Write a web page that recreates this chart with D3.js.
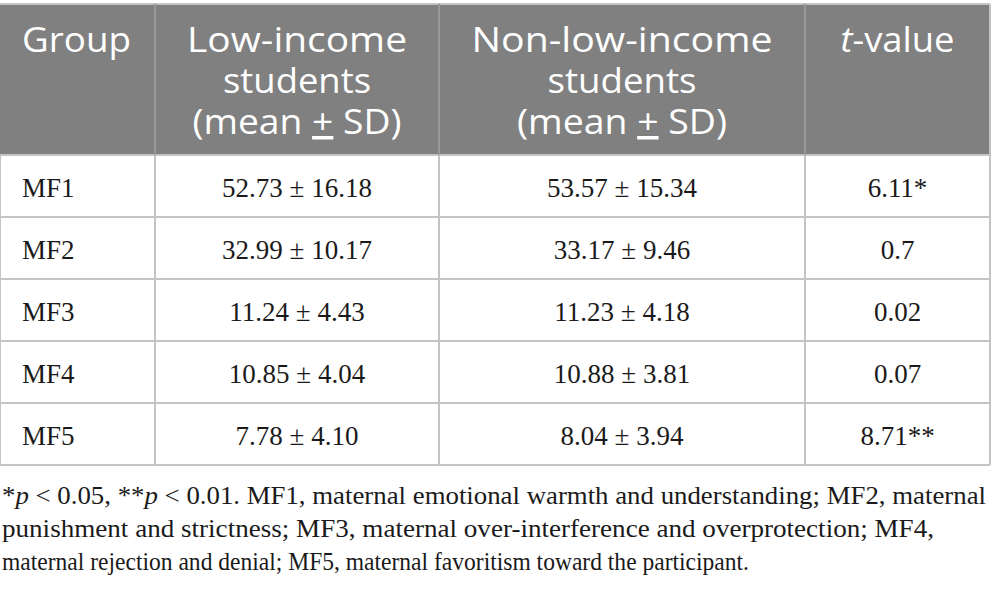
<!DOCTYPE html>
<html>
<head>
<meta charset="utf-8">
<script src="https://cdn.jsdelivr.net/npm/d3@7"></script>
<style>
  body { margin: 0; background: #fff; }
  svg { display: block; }
</style>
</head>
<body>
<div id="table"></div>
<script>
var width = 991,
    height = 592;

// table contents
var groups = ["MF1", "MF2", "MF3", "MF4", "MF5"];
var lowIncome = ["52.73 ± 16.18", "32.99 ± 10.17", "11.24 ± 4.43", "10.85 ± 4.04", "7.78 ± 4.10"];
var nonLowIncome = ["53.57 ± 15.34", "33.17 ± 9.46", "11.23 ± 4.18", "10.88 ± 3.81", "8.04 ± 3.94"];
var tValues = ["6.11*", "0.7", "0.02", "0.07", "8.71**"];
var headers = [
  [["Group"]],
  [["Low-income"], ["students"], ["(mean ", "+", " SD)"]],
  [["Non-low-income"], ["students"], ["(mean ", "+", " SD)"]],
  [["t", "-value"]]
];
var headWidths = [[109], [220, 148, 209], [301, 149, 210], [114]];
var footnote = [
  [["*"], ["p", "i"], [" < 0.05, **"], ["p", "i"], [" < 0.01. MF1, maternal emotional warmth and understanding; MF2, maternal"]],
  [["punishment and strictness; MF3, maternal over-interference and overprotection; MF4,"]],
  [["maternal rejection and denial; MF5, maternal favoritism toward the participant."]]
];
var footWidths = [984, 932, 747];

var colEdges = [0, 155, 439, 805, 990];
var headTop = 4, headBottom = 155, tableBottom = 465;

var svg = d3.select("#table").append("svg")
    .attr("width", width)
    .attr("height", height);

var y = d3.scaleBand()
    .domain(groups)
    .range([headBottom, tableBottom]);

var colMid = function(i) { return (colEdges[i] + colEdges[i + 1]) / 2; };

// header background
svg.append("rect")
    .attr("x", colEdges[0])
    .attr("y", headTop)
    .attr("width", colEdges[4] - colEdges[0])
    .attr("height", headBottom - headTop)
    .attr("fill", "#808080");

// header text, one text per column, a tspan per line
headers.forEach(function(lines, c) {
  var t = svg.append("text")
      .attr("text-anchor", c == 0 ? "start" : "middle")
      .attr("fill", "#fff")
      .attr("font-family", "'Open Sans', sans-serif")
      .attr("font-size", 35);
  lines.forEach(function(parts, l) {
    var line = t.append("tspan")
        .attr("x", c == 0 ? 22 : colMid(c))
        .attr("y", 52 + l * 41)
        .attr("textLength", headWidths[c][l])
        .attr("lengthAdjust", "spacingAndGlyphs");
    parts.forEach(function(p, k) {
      var s = line.append("tspan").text(p);
      if (c == 3 && k == 0) s.attr("font-style", "italic");
      if (p == "+") s.attr("text-decoration", "underline");
    });
  });
});

// body cells
var rows = svg.append("g").selectAll("g")
    .data(groups)
  .enter().append("g")
    .attr("transform", function(d) { return "translate(0," + (y(d) + y.bandwidth() / 2 + 11) + ")"; });

var cellText = function(anchor, x, accessor) {
  rows.append("text")
      .attr("x", x)
      .attr("text-anchor", anchor)
      .attr("fill", "#1a1a1a")
      .attr("font-family", "'Liberation Serif', serif")
      .attr("font-size", 27)
      .text(accessor);
};
cellText("start", 22, function(d) { return d; });
cellText("middle", colMid(1), function(d, i) { return lowIncome[i]; });
cellText("middle", colMid(2), function(d, i) { return nonLowIncome[i]; });
cellText("middle", colMid(3), function(d, i) { return tValues[i]; });

// grid lines
var grid = svg.append("g")
    .attr("stroke", "#c4c4c4")
    .attr("stroke-width", 2);

grid.append("line")
    .attr("x1", 0).attr("x2", colEdges[4])
    .attr("y1", headTop).attr("y2", headTop);

grid.selectAll(".h")
    .data(groups)
  .enter().append("line")
    .attr("x1", 0).attr("x2", colEdges[4])
    .attr("y1", function(d) { return y(d) + y.bandwidth(); })
    .attr("y2", function(d) { return y(d) + y.bandwidth(); });

grid.append("line")
    .attr("x1", 0).attr("x2", colEdges[4])
    .attr("y1", headBottom).attr("y2", headBottom);

// column lines: darker inside the header, light in the body
grid.selectAll(".v")
    .data(colEdges.slice(1))
  .enter().append("line")
    .attr("x1", function(d) { return d; }).attr("x2", function(d) { return d; })
    .attr("y1", headTop).attr("y2", headBottom)
    .attr("stroke", function(d, i) { return i < 3 ? "#999" : "#c4c4c4"; });

grid.selectAll(".vb")
    .data(colEdges)
  .enter().append("line")
    .attr("x1", function(d) { return d; }).attr("x2", function(d) { return d; })
    .attr("y1", headBottom).attr("y2", tableBottom);

// footnote
footnote.forEach(function(parts, l) {
  var t = svg.append("text")
      .attr("x", 2)
      .attr("y", 504 + l * 33)
      .attr("fill", "#1a1a1a")
      .attr("font-family", "'Liberation Serif', serif")
      .attr("font-size", 26)
      .attr("textLength", footWidths[l])
      .attr("lengthAdjust", "spacingAndGlyphs");
  parts.forEach(function(p) {
    var s = t.append("tspan").text(p[0]);
    if (p[1] == "i") s.attr("font-style", "italic");
  });
});
</script>
</body>
</html>
